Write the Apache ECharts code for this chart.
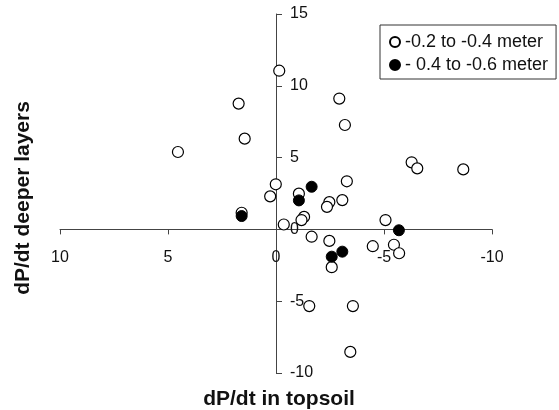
<!DOCTYPE html>
<html>
<head>
<meta charset="utf-8">
<script src="https://cdn.jsdelivr.net/npm/echarts@6/dist/echarts.min.js"></script>
<style>
html,body{margin:0;padding:0;background:#fff;}
#chart{width:559px;height:410px;}
</style>
</head>
<body>
<div id="chart"></div>
<script>
// Series names
const seriesNames = ['-0.2 to -0.4 meter', '- 0.4 to -0.6 meter'];
// dP/dt in topsoil (x) and dP/dt deeper layers (y)
const shallowX = [1.73, 1.45, 4.54, -0.15, 0.01, 0.27, -2.93, -3.19, -6.28, -6.54, -8.67, -3.28, -1.06, -3.07, -2.47, -2.36, -1.30, -1.18, -0.36, -1.65, -2.47, -2.58, 1.59, -5.07, -4.48, -5.46, -5.70, -1.54, -3.56, -3.44];
const shallowY = [8.76, 6.32, 5.39, 11.05, 3.14, 2.30, 9.11, 7.27, 4.67, 4.25, 4.18, 3.35, 2.49, 2.04, 1.90, 1.57, 0.87, 0.65, 0.34, -0.51, -0.80, -2.63, 1.16, 0.65, -1.17, -1.07, -1.66, -5.34, -5.34, -8.53];
const deepX = [-1.06, -1.65, -3.07, -2.58, 1.59, -5.69];
const deepY = [2.02, 2.97, -1.55, -1.90, 0.93, -0.06];
// Axis tick settings
const xTicks = {min: -10, max: 10, interval: 5};
const yTicks = {min: -10, max: 15, interval: 5};
const xTitle = 'dP/dt in topsoil';
const yTitle = 'dP/dt deeper layers';

const pair = (xs, ys) => xs.map((x, i) => [x, ys[i]]);
const axisColor = '#444';
const font = 'Liberation Sans, Arial, Helvetica, sans-serif';
const W = 559, H = 410;
const grid = {left: 60, right: 67, top: 14, bottom: 37};
const gw = W - grid.left - grid.right, gh = H - grid.top - grid.bottom;
// Axes cross at zero: shift each axis from its grid edge to the zero line
const xAxisOffset = -gh * (0 - yTicks.min) / (yTicks.max - yTicks.min);
const yAxisOffset = -gw * (0 - xTicks.min) / (xTicks.max - xTicks.min); // x axis inverted but symmetric

const chart = echarts.init(document.getElementById('chart'), null, {renderer: 'canvas'});
chart.setOption({
  animation: false,
  backgroundColor: '#fff',
  grid: Object.assign({containLabel: false}, grid),
  legend: {
    orient: 'vertical',
    left: 380, top: 25,
    padding: [8, 8, 5, 9],
    itemGap: 5,
    itemWidth: 10, itemHeight: 10,
    borderColor: '#333', borderWidth: 1,
    textStyle: {fontSize: 18, color: '#111', fontFamily: font},
    data: seriesNames
  },
  xAxis: {
    type: 'value', inverse: true, position: 'bottom', offset: xAxisOffset,
    min: xTicks.min, max: xTicks.max, interval: xTicks.interval,
    axisLine: {onZero: false, lineStyle: {color: axisColor, width: 1}},
    axisTick: {show: true, length: 5, lineStyle: {color: axisColor}},
    axisLabel: {margin: 20, fontSize: 16, color: '#111', fontFamily: font},
    splitLine: {show: false}
  },
  yAxis: {
    type: 'value', position: 'left', offset: yAxisOffset,
    min: yTicks.min, max: yTicks.max, interval: yTicks.interval,
    axisLine: {onZero: false, lineStyle: {color: axisColor, width: 1}},
    axisTick: {show: true, inside: true, length: 6, lineStyle: {color: axisColor}},
    axisLabel: {inside: true, margin: 14, fontSize: 16, color: '#111', fontFamily: font},
    splitLine: {show: false}
  },
  graphic: [
    {type: 'text', x: 279, y: 399,
     style: {text: xTitle, font: 'bold 21px ' + font, fill: '#111', align: 'center', verticalAlign: 'middle'}},
    {type: 'text', x: 23, y: 198, rotation: Math.PI / 2,
     style: {text: yTitle, font: 'bold 21px ' + font, fill: '#111', align: 'center', verticalAlign: 'middle'}}
  ],
  series: [
    {
      name: seriesNames[0], type: 'scatter', symbol: 'circle', symbolSize: 11,
      itemStyle: {color: '#fff', borderColor: '#000', borderWidth: 1.2, opacity: 1},
      data: pair(shallowX, shallowY), z: 2
    },
    {
      name: seriesNames[1], type: 'scatter', symbol: 'circle', symbolSize: 11,
      itemStyle: {color: '#000', borderColor: '#000', borderWidth: 1, opacity: 1},
      data: pair(deepX, deepY), z: 3
    }
  ]
});
</script>
</body>
</html>
